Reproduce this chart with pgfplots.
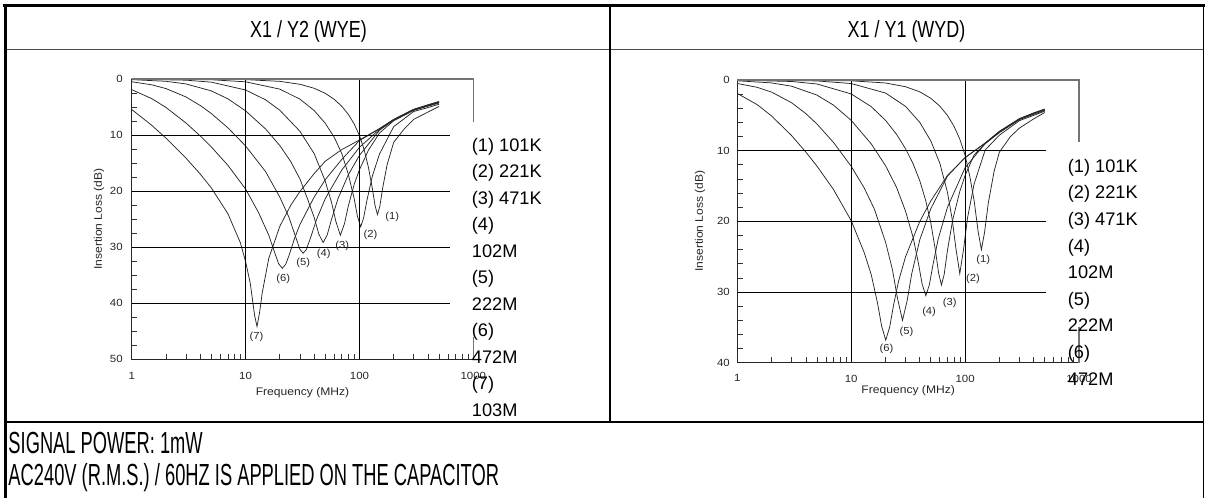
\documentclass[border=0pt]{standalone}
\usepackage{fontspec}
\setmainfont{Liberation Sans}
\newfontfamily\hdrfont[FakeStretch=0.77]{Liberation Sans}
\newfontfamily\btmfont[FakeStretch=0.6]{Liberation Sans}
\newfontfamily\chfont[FakeStretch=1.1]{Liberation Sans}
\usepackage{pgfplots}
\pgfplotsset{compat=1.18}
\tikzset{crv/.style={black!85, line width=0.75bp, mark=none, solid}}
\newcommand\tickfont{\chfont\fontsize{10.4bp}{12bp}\selectfont}
\newcommand\labfont{\chfont\fontsize{11bp}{13bp}\selectfont}
\newcommand\curvefont{\chfont\fontsize{10.2bp}{12bp}\selectfont}
\newcommand\legfont{\fontsize{18.2bp}{20bp}\selectfont}
\begin{document}
\begin{tikzpicture}
\useasboundingbox (0,0) rectangle (1205bp,498bp);
% table lines
\draw[line width=2.7bp] (2.5bp,492.65bp) -- (1205bp,492.65bp);
\draw[line width=3.3bp] (5.65bp,494bp) -- (5.65bp,0bp);
\draw[line width=1bp, black!70] (7bp,448.7bp) -- (1203.3bp,448.7bp);
\draw[line width=1.3bp] (610bp,491.3bp) -- (610bp,76bp);
\draw[line width=1.3bp] (1203.3bp,491.3bp) -- (1203.3bp,0bp);
\draw[line width=1.1bp] (7bp,76bp) -- (1203.3bp,76bp);
% headers
\node[anchor=base, font=\hdrfont\fontsize{23.3bp}{26bp}\selectfont] at (308.5bp,460.7bp) {X1 / Y2 (WYE)};
\node[anchor=base, font=\hdrfont\fontsize{23.3bp}{26bp}\selectfont] at (906.5bp,460.7bp) {X1 / Y1 (WYD)};
% bottom text
\node[anchor=base west, inner sep=0pt, font=\btmfont\fontsize{30.5bp}{32bp}\selectfont] at (8.3bp,44bp) {SIGNAL POWER: 1mW};
\node[anchor=base west, inner sep=0pt, font=\btmfont\fontsize{30.5bp}{32bp}\selectfont] at (8.3bp,13bp) {AC240V (R.M.S.) / 60HZ IS APPLIED ON THE CAPACITOR};

% ---------------- left chart
\begin{axis}[
  scale only axis, xmode=log, xmin=1, xmax=1000, ymin=0, ymax=50, y dir=reverse,
  width=341.6bp, height=280bp, at={(131.7bp,139bp)}, anchor=south west,
  axis line style={draw=none}, clip=false,
  xtick={1,10,100,1000}, xticklabels={1,10,100,1000},
  minor xtick={2,3,4,5,6,7,8,9,20,30,40,50,60,70,80,90,200,300,400,500,600,700,800,900},
  ytick={0,10,20,30,40,50}, yticklabels={0,10,20,30,40,50},
  minor ytick={2.5,5,7.5,12.5,15,17.5,22.5,25,27.5,32.5,35,37.5,42.5,45,47.5},
  tick align=inside, tick pos=left, major tick length=0pt, minor tick length=5.5bp,
  minor tick style={black!80, line width=0.7bp},
  xticklabel style={font=\tickfont, text=black!85, yshift=-10bp},
  yticklabel style={font=\tickfont, text=black!85, xshift=-5.5bp},
]
\addplot[crv] coordinates {(1,0) (10,0.11) (20,0.42) (30,0.94) (40,1.65) (50,2.55) (60,3.62) (70,4.87) (80,6.33) (90,8.05) (100,10.08) (110,12.6) (120,15.8) (130,19.6) (137,22.56) (144,24.2) (151,22.75) (160,19.47) (175,15.3) (200,11.3) (250,8.8) (300,7.2) (400,5.9) (500,4.9)};
\addplot[crv] coordinates {(1,0) (5,0.13) (10,0.5) (20,1.81) (30,3.59) (40,5.63) (50,7.88) (60,10.39) (70,13.3) (80,17.06) (90,21.4) (96,24.5) (102.6,26.4) (109,24.75) (116,21.8) (130,17.3) (150,13.4) (200,8.5) (300,5.8) (400,5.1) (500,4.5)};
\addplot[crv] coordinates {(1,0.02) (3,0.21) (5,0.56) (10,1.96) (15,3.72) (20,5.58) (30,9.33) (40,13.3) (50,18.2) (57,22.1) (62,25.4) (68,27.9) (74,25.8) (80,22.6) (90,18.8) (100,16.2) (120,12.7) (150,9.65) (200,7.45) (300,5.6) (400,4.85) (500,4.3)};
\addplot[crv] coordinates {(1,0.11) (2,0.41) (3,0.88) (5,2.12) (7,3.54) (10,5.68) (15,8.93) (20,11.89) (25,14.78) (30,17.84) (35,21.4) (40,24.7) (44,27.7) (48,29.2) (52,27.9) (57,25.0) (65,21.3) (80,17.07) (100,13.64) (150,9.15) (200,7.35) (300,5.55) (400,4.75) (500,4.2)};
\addplot[crv] coordinates {(1,0.49) (1.5,1.04) (2,1.71) (3,3.21) (4,4.73) (5,6.16) (7,8.72) (10,11.95) (15,16.54) (20,21.1) (24,24.66) (27,27.7) (30,30.4) (32,31.1) (34,30.55) (37,28.5) (42,25.1) (50,21.4) (70,16.25) (100,12.2) (150,9.0) (200,7.3) (300,5.5) (400,4.7) (500,4.15)};
\addplot[crv] coordinates {(1,1.9) (1.5,3.5) (2,5.08) (3,7.86) (4,10.17) (5,12.12) (7,15.42) (10,19.64) (13,23.85) (16,27.9) (18,30.97) (19.5,32.97) (21,33.8) (22.5,33.1) (24,31.6) (27,28.4) (30,26.0) (40,21.1) (50,18.0) (70,14.35) (100,11.0) (150,8.9) (200,7.25) (300,5.45) (400,4.65) (500,4.1)};
\addplot[crv] coordinates {(1,5.44) (1.5,8.27) (2,10.56) (3,14.14) (4,16.97) (5,19.44) (7,24.06) (9,29.23) (10,32.59) (11,36.5) (12,42.2) (12.6,44.2) (13.3,41.6) (14,38.2) (16,32.0) (20,26.3) (25,22.5) (30,20.1) (40,16.9) (50,14.7) (70,12.6) (100,10.9) (150,8.85) (200,7.2) (300,5.4) (400,4.6) (500,4.0)};
% grid and frame
\draw[black, line width=0.9bp] (axis cs:1,10) -- (axis cs:628,10);
\draw[black, line width=0.9bp] (axis cs:1,20) -- (axis cs:628,20);
\draw[black, line width=0.9bp] (axis cs:1,30) -- (axis cs:628,30);
\draw[black, line width=0.9bp] (axis cs:1,40) -- (axis cs:628,40);
\draw[black, line width=0.9bp] (axis cs:10,0) -- (axis cs:10,50);
\draw[black, line width=0.9bp] (axis cs:100,0) -- (axis cs:100,50);
\draw[black!85, line width=1bp] (axis cs:1,0) -- (axis cs:1,50) -- (axis cs:1000,50);
\draw[black!55, line width=1.1bp] (axis cs:1,0) -- (axis cs:1000,0) -- (axis cs:1000,7.7);
\draw[black!55, line width=1.1bp] (axis cs:1000,46) -- (axis cs:1000,50);
% curve labels
\node[font=\curvefont, text=black!85] at (axis cs:194,24.6) {(1)};
\node[font=\curvefont, text=black!85] at (axis cs:125,27.9) {(2)};
\node[font=\curvefont, text=black!85] at (axis cs:70.5,29.8) {(3)};
\node[font=\curvefont, text=black!85] at (axis cs:48.7,31.25) {(4)};
\node[font=\curvefont, text=black!85] at (axis cs:32.1,32.9) {(5)};
\node[font=\curvefont, text=black!85] at (axis cs:21.4,35.6) {(6)};
\node[font=\curvefont, text=black!85] at (axis cs:12.5,46.0) {(7)};
\end{axis}
\node[rotate=90, font=\labfont, text=black!85] at (99bp,279bp) {Insertion Loss (dB)};
\node[anchor=base, font=\labfont, text=black!85] at (302.5bp,102bp) {Frequency (MHz)};

% ---------------- right chart
\begin{axis}[
  scale only axis, xmode=log, xmin=1, xmax=1000, ymin=0, ymax=40, y dir=reverse,
  width=341.7bp, height=282.8bp, at={(737.3bp,135.2bp)}, anchor=south west,
  axis line style={draw=none}, clip=false,
  xtick={1,10,100,1000}, xticklabels={1,10,100,1000},
  minor xtick={2,3,4,5,6,7,8,9,20,30,40,50,60,70,80,90,200,300,400,500,600,700,800,900},
  ytick={0,10,20,30,40}, yticklabels={0,10,20,30,40},
  minor ytick={2,4,6,8,12,14,16,18,22,24,26,28,32,34,36,38},
  tick align=inside, tick pos=left, major tick length=0pt, minor tick length=5.5bp,
  minor tick style={black!80, line width=0.7bp},
  xticklabel style={font=\tickfont, text=black!85, yshift=-8.5bp},
  yticklabel style={font=\tickfont, text=black!85, xshift=-4bp},
]
\addplot[crv] coordinates {(1,0) (10,0.11) (20,0.42) (30,0.95) (40,1.67) (50,2.59) (60,3.7) (70,5.01) (80,6.56) (90,8.4) (100,10.65) (110,13.64) (120,17.06) (130,21.4) (139,24.0) (148,21.6) (160,17.35) (180,12.86) (200,10.2) (250,8.0) (300,6.8) (400,5.5) (500,4.6)};
\addplot[crv] coordinates {(1,0) (5,0.13) (10,0.5) (20,1.84) (30,3.73) (40,5.99) (50,8.62) (60,11.77) (70,15.9) (77,19.66) (83,23.8) (89.8,27.4) (97,23.9) (105,19.5) (120,14.7) (150,9.9) (200,7.8) (300,5.75) (400,5.0) (500,4.4)};
\addplot[crv] coordinates {(1,0.02) (3,0.21) (5,0.56) (10,1.97) (15,3.77) (20,5.7) (25,7.68) (30,9.72) (35,11.87) (40,14.25) (45,17.0) (50,20.2) (55,24.2) (58.5,27.3) (62,29.0) (65.5,27.5) (70,24.1) (78,19.7) (90,15.7) (100,13.5) (120,10.6) (150,9.0) (200,7.45) (300,5.6) (400,4.85) (500,4.3)};
\addplot[crv] coordinates {(1,0.11) (2,0.41) (3,0.88) (5,2.13) (7,3.56) (10,5.71) (15,9.04) (20,12.11) (25,15.18) (30,18.56) (35,22.3) (39,26.0) (42,28.9) (45.2,30.5) (48.5,29.0) (52,26.3) (58,22.5) (70,18.0) (100,12.4) (150,9.0) (200,7.35) (300,5.55) (400,4.75) (500,4.2)};
\addplot[crv] coordinates {(1,0.49) (1.5,1.04) (2,1.71) (3,3.22) (4,4.76) (5,6.22) (7,8.84) (10,12.21) (13,15.26) (16,18.29) (20,22.9) (23,26.8) (25.5,30.9) (28.2,34.0) (31,31.2) (34,27.4) (40,22.6) (50,18.2) (70,13.6) (100,10.95) (150,8.95) (200,7.3) (300,5.5) (400,4.7) (500,4.15)};
\addplot[crv] coordinates {(1,1.9) (1.5,3.5) (2,5.09) (3,7.87) (4,10.2) (5,12.17) (7,15.5) (10,19.9) (13,24.4) (15,27.55) (17,31.5) (18.5,34.8) (20.1,36.8) (21.8,34.9) (23.5,31.9) (26,28.5) (30,25.0) (40,20.0) (50,17.1) (70,13.5) (100,11.0) (150,8.9) (200,7.25) (300,5.45) (400,4.65) (500,4.1)};
\draw[black, line width=0.9bp] (axis cs:1,10) -- (axis cs:518,10);
\draw[black, line width=0.9bp] (axis cs:1,20) -- (axis cs:518,20);
\draw[black, line width=0.9bp] (axis cs:1,30) -- (axis cs:518,30);
\draw[black, line width=0.9bp] (axis cs:10,0) -- (axis cs:10,40);
\draw[black, line width=0.9bp] (axis cs:100,0) -- (axis cs:100,40);
\draw[black!85, line width=1bp] (axis cs:1,0) -- (axis cs:1,40) -- (axis cs:1000,40);
\draw[black!55, line width=1.1bp] (axis cs:1,0) -- (axis cs:1000,0) -- (axis cs:1000,8.7);
\draw[black!55, line width=1.1bp] (axis cs:1000,34.9) -- (axis cs:1000,40);
\node[font=\curvefont, text=black!85] at (axis cs:144,25.4) {(1)};
\node[font=\curvefont, text=black!85] at (axis cs:117.5,28.1) {(2)};
\node[font=\curvefont, text=black!85] at (axis cs:73.3,31.5) {(3)};
\node[font=\curvefont, text=black!85] at (axis cs:48.3,32.8) {(4)};
\node[font=\curvefont, text=black!85] at (axis cs:30.6,35.6) {(5)};
\node[font=\curvefont, text=black!85] at (axis cs:20.4,38.0) {(6)};
\end{axis}
\node[rotate=90, font=\labfont, text=black!85] at (700bp,277bp) {Insertion Loss (dB)};
\node[anchor=base, font=\labfont, text=black!85] at (908.2bp,104bp) {Frequency (MHz)};

% legends
\node[anchor=base west, inner sep=0pt, font=\legfont] at (471.7bp,346.7bp) {(1) 101K};
\node[anchor=base west, inner sep=0pt, font=\legfont] at (471.7bp,320.2bp) {(2) 221K};
\node[anchor=base west, inner sep=0pt, font=\legfont] at (471.7bp,293.7bp) {(3) 471K};
\node[anchor=base west, inner sep=0pt, font=\legfont] at (471.7bp,267.2bp) {(4)};
\node[anchor=base west, inner sep=0pt, font=\legfont] at (471.7bp,240.7bp) {102M};
\node[anchor=base west, inner sep=0pt, font=\legfont] at (471.7bp,214.2bp) {(5)};
\node[anchor=base west, inner sep=0pt, font=\legfont] at (471.7bp,187.7bp) {222M};
\node[anchor=base west, inner sep=0pt, font=\legfont] at (471.7bp,161.2bp) {(6)};
\node[anchor=base west, inner sep=0pt, font=\legfont] at (471.7bp,134.7bp) {472M};
\node[anchor=base west, inner sep=0pt, font=\legfont] at (471.7bp,108.2bp) {(7)};
\node[anchor=base west, inner sep=0pt, font=\legfont] at (471.7bp,81.7bp) {103M};
\node[anchor=base west, inner sep=0pt, font=\legfont] at (1067.7bp,325.7bp) {(1) 101K};
\node[anchor=base west, inner sep=0pt, font=\legfont] at (1067.7bp,299.1bp) {(2) 221K};
\node[anchor=base west, inner sep=0pt, font=\legfont] at (1067.7bp,272.5bp) {(3) 471K};
\node[anchor=base west, inner sep=0pt, font=\legfont] at (1067.7bp,245.9bp) {(4)};
\node[anchor=base west, inner sep=0pt, font=\legfont] at (1067.7bp,219.3bp) {102M};
\node[anchor=base west, inner sep=0pt, font=\legfont] at (1067.7bp,192.7bp) {(5)};
\node[anchor=base west, inner sep=0pt, font=\legfont] at (1067.7bp,166.1bp) {222M};
\node[anchor=base west, inner sep=0pt, font=\legfont] at (1067.7bp,139.5bp) {(6)};
\node[anchor=base west, inner sep=0pt, font=\legfont] at (1067.7bp,112.9bp) {472M};
\end{tikzpicture}
\end{document}
